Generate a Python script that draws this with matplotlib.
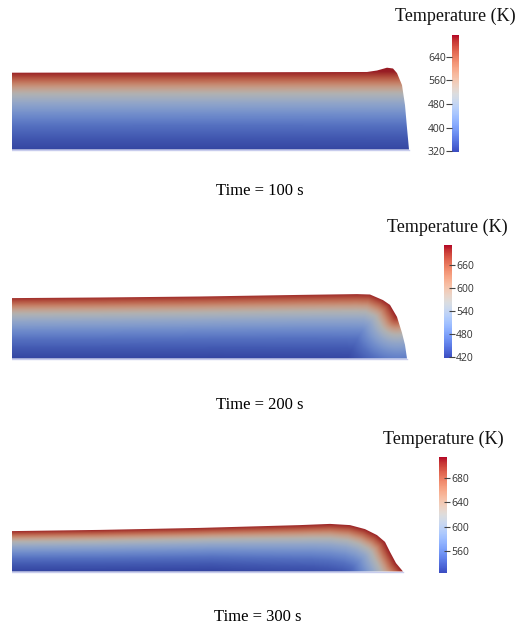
import numpy as np
import matplotlib
matplotlib.use("Agg")
import matplotlib.pyplot as plt
from matplotlib.colors import Normalize, ListedColormap
from matplotlib.patches import Polygon
from matplotlib.cm import ScalarMappable

times = [100, 200, 300]

# top surface of the plate (mm along, mm above base)
surf_x1 = [0, 47, 88.75, 91.25, 93.75, 95.25, 96.25, 97.5, 98.25, 98.75, 99.25]
surf_y1 = [19.2, 19.28, 19.38, 19.75, 20.45, 20.25, 19.1, 16.1, 11.1, 5.4, 0]
surf_x2 = [0, 22, 47, 72, 86.25, 89.5, 92.75, 94.5, 96.25, 97.5, 98.25, 98.75]
surf_y2 = [15.1, 15.25, 15.5, 15.9, 16.1, 16.0, 14.6, 13.4, 10.4, 6.4, 3.4, 0]
surf_x3 = [0, 22, 47, 72, 79.5, 84.5, 88.25, 91.25, 93.25, 94.5, 96, 97.75]
surf_y3 = [10.1, 10.4, 10.9, 11.6, 11.9, 11.6, 10.6, 9.1, 7.4, 4.9, 2.1, 0]
# how many surface points take the heat in each panel
n_heated = [3, 9, 12]
# panel 1 heats straight down from the top, the others along the surface normal
vertical_heat = [True, False, False]

# heat penetration depth along the plate (mm)
scale_x = [0, 50, 75, 90, 100]
scale1 = [19.2, 19.3, 19.4, 19.5, 19.5]
scale2 = [15.1, 15.5, 16.0, 16.5, 17.0]
scale3 = [10.0, 10.8, 12.5, 15.0, 16.0]

# temperature (fraction of colour range) vs depth / penetration depth
depth_frac = [0, 0.05, 0.12, 0.2, 0.28, 0.4, 0.55, 0.7, 0.85, 1.0, 1.5]
temp_frac = [0.97, 0.9, 0.78, 0.63, 0.5, 0.37, 0.25, 0.15, 0.08, 0.03, 0.0]

# colour bar ranges and ticks (K)
t_min = [318, 417, 524]
t_max = [713, 712, 714]
ticks = [[320, 400, 480, 560, 640],
         [420, 480, 540, 600, 660],
         [560, 600, 640, 680]]

surfaces = [(surf_x1, surf_y1), (surf_x2, surf_y2), (surf_x3, surf_y3)]
scales = [scale1, scale2, scale3]

W, H = 518, 625
fig = plt.figure(figsize=(W / 100, H / 100), dpi=100)

base = plt.get_cmap("coolwarm")
shaded = ListedColormap(base(np.linspace(0, 1, 256))[:, :3] * 0.8)

bottom_px = [149.5, 358.5, 571.5]
y_top = [22, 18, 14]
cbar_px = [(452, 35, 7, 117), (444, 245, 8, 113), (439, 457, 8, 116)]
title_pos = [(455, 16), (447, 227), (443, 439)]
caption_pos = [(260, 191), (260, 405), (258, 617)]

for i in range(3):
    sx, sy = np.array(surfaces[i][0]), np.array(surfaces[i][1])
    ax = fig.add_axes([12 / W, 1 - (bottom_px[i] + 4) / H,
                       400 / W, 4 * (y_top[i] + 1) / H])
    ax.set_xlim(0, 100)
    ax.set_ylim(-1, y_top[i])
    ax.axis("off")

    gx, gy = np.meshgrid(np.linspace(0, 100, 700), np.linspace(-1, y_top[i], 140))
    nh = n_heated[i]
    if vertical_heat[i]:
        dist = np.interp(gx, sx[:nh], sy[:nh]) - gy
    else:
        # densify the heated part of the surface
        hx, hy = [], []
        for k in range(nh - 1):
            t = np.linspace(0, 1, 60)
            hx.append(sx[k] + (sx[k + 1] - sx[k]) * t)
            hy.append(sy[k] + (sy[k + 1] - sy[k]) * t)
        hx, hy = np.concatenate(hx), np.concatenate(hy)
        dist = np.full(gx.shape, np.inf)
        for px, py in zip(hx, hy):
            dist = np.minimum(dist, np.hypot(gx - px, gy - py))
    depth = np.clip(dist, 0, None) / np.interp(gx, scale_x, scales[i])
    frac = np.interp(depth, depth_frac, temp_frac)
    temp = t_min[i] + frac * (t_max[i] - t_min[i])

    im = ax.imshow(temp, extent=(0, 100, -1, y_top[i]), origin="lower",
                   cmap=shaded, vmin=t_min[i], vmax=t_max[i],
                   interpolation="bilinear", aspect="auto")
    poly = Polygon(np.column_stack([np.append(sx, 0), np.append(sy, 0)]),
                   closed=True, facecolor="none", edgecolor="none")
    ax.add_patch(poly)
    im.set_clip_path(poly)
    ax.plot([0, sx[-1]], [0, 0], color="#c8cced", lw=1)

    # colour bar
    cx, cy, cw, ch = cbar_px[i]
    cax = fig.add_axes([cx / W, 1 - (cy + ch) / H, cw / W, ch / H])
    cb = fig.colorbar(ScalarMappable(Normalize(t_min[i], t_max[i]), base),
                      cax=cax, ticks=ticks[i])
    cb.outline.set_visible(False)
    if i == 0:
        cax.yaxis.set_ticks_position("left")
        cax.tick_params(direction="out", length=4, width=0.8, pad=0.5,
                        color="#444444", labelcolor="#333333", labelsize=7.5)
    else:
        cax.tick_params(direction="inout", length=5, width=0.8, pad=0.5,
                        color="#444444", labelcolor="#333333", labelsize=7.5)
    for lab in cax.get_yticklabels():
        lab.set_fontfamily("Open Sans")

    tx, ty = title_pos[i]
    fig.text(tx / W, 1 - ty / H, "Temperature (K)", ha="center", va="center",
             fontfamily="Liberation Serif", fontsize=13, color="#111111")
    px_, py_ = caption_pos[i]
    fig.text(px_ / W, 1 - py_ / H, f"Time = {times[i]} s", ha="center",
             va="center", fontfamily="Liberation Serif", fontsize=12,
             color="black")

fig.savefig("out.png", dpi=100)
